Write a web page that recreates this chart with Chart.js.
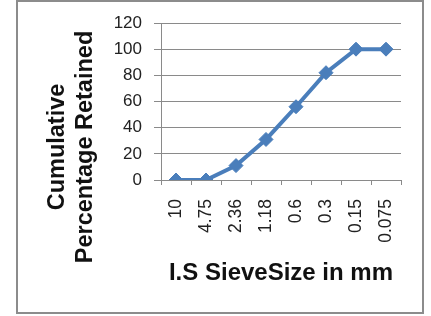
<!DOCTYPE html>
<html>
<head>
<meta charset="utf-8">
<script src="https://cdn.jsdelivr.net/npm/chart.js@4"></script>
<style>
  html,body{margin:0;padding:0;background:#fff;}
  #wrap{position:relative;width:431px;height:316px;}
  #frame{position:absolute;left:16px;top:0px;width:404px;height:310px;border:2px solid #8c8c8c;box-sizing:content-box;}
  canvas{position:absolute;left:0;top:0;}
</style>
</head>
<body>
<div id="wrap">
  <div id="frame"></div>
  <canvas id="c" width="431" height="316"></canvas>
</div>
<script>
// sieve sizes (mm) and cumulative % retained
const sieveSizes = ['10','4.75','2.36','1.18','0.6','0.3','0.15','0.075'];
const cumRetained = [0, 0, 11, 31, 56, 82, 100, 100];
const yTicks = [0, 20, 40, 60, 80, 100, 120];
const yTitle = ['Cumulative','Percentage Retained'];

const GRID = '#8a8a8a';
const BLUE = '#4a7ebb';

// y title sits centred on the whole frame, not on the axis, so draw it here
const yTitlePlugin = {
  id:'yTitle',
  afterDraw(chart){
    const ctx = chart.ctx;
    ctx.save();
    ctx.font = 'bold 23.5px "Liberation Sans"';
    ctx.fillStyle = '#111';
    ctx.textAlign = 'center';
    ctx.textBaseline = 'middle';
    ctx.translate(58, 147);
    ctx.rotate(-Math.PI/2);
    yTitle.forEach((t,i)=>ctx.fillText(t, 0, i*27.5));
    ctx.restore();
  }
};

new Chart(document.getElementById('c'), {
  type:'line',
  data:{ labels: sieveSizes, datasets:[{
    data: cumRetained,
    borderColor: BLUE, backgroundColor: BLUE,
    borderWidth: 4, tension: 0,
    pointStyle: 'rectRot', pointRadius: 7, pointBorderWidth: 1,
    pointBackgroundColor: BLUE, pointBorderColor: BLUE,
  }]},
  options:{
    responsive:false, animation:false,
    layout:{ padding:{ left:40, right:30, top:23, bottom:16 } },
    plugins:{ legend:{display:false}, tooltip:{enabled:false} },
    scales:{
      x:{
        offset:true,
        grid:{ offset:true, drawOnChartArea:false, color:GRID, tickLength:5, tickColor:GRID },
        border:{ color:GRID, width:1 },
        ticks:{ minRotation:90, maxRotation:90, padding:14, color:'#222',
          font:{ family:'Liberation Sans', size:17.5 } },
        title:{ display:true, text:'I.S SieveSize in mm', color:'#111',
          font:{ family:'Liberation Sans', size:24, weight:'bold' }, padding:{top:0, bottom:12} },
        afterFit: s => { s.height = 120; }
      },
      y:{
        min:0, max:120,
        afterBuildTicks: s => { s.ticks = yTicks.map(v => ({value:v})); },
        grid:{ color:GRID, tickLength:7, tickColor:GRID },
        border:{ color:GRID, width:1 },
        ticks:{ padding:12, color:'#222', font:{ family:'Liberation Sans', size:17 } },
        afterFit: s => { s.width = 121; }
      }
    }
  },
  plugins:[yTitlePlugin]
});
</script>
</body>
</html>
